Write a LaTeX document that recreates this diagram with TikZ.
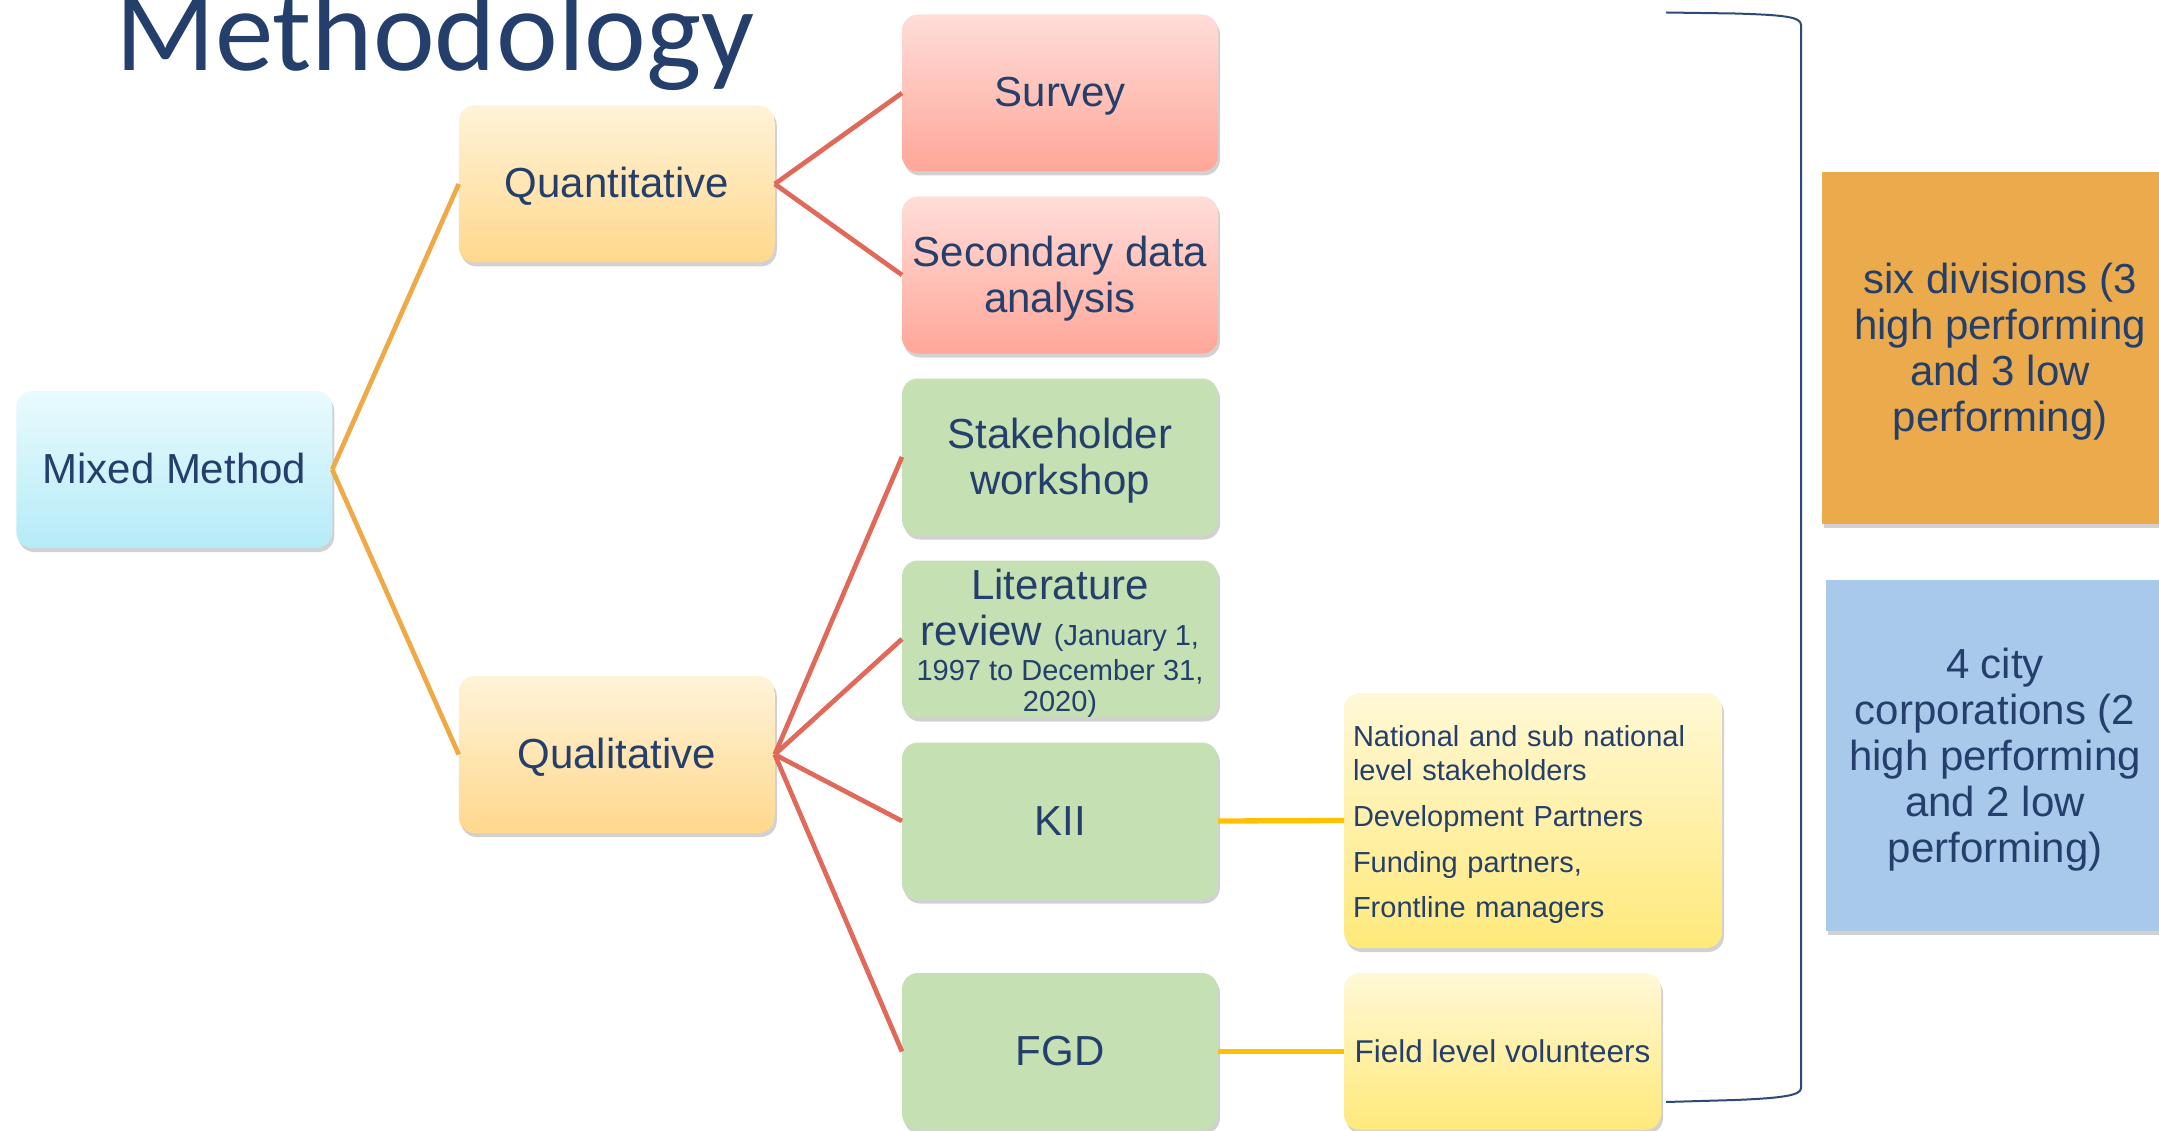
\documentclass[tikz,border=0pt]{standalone}
\usepackage{fontspec}
\setmainfont{Liberation Sans}
\newfontfamily\titlefont{Carlito}
\usetikzlibrary{shadows}
\definecolor{navy}{HTML}{243F6B}
\definecolor{bracketc}{HTML}{2B4A7A}
\definecolor{ocn}{HTML}{EEAA46}
\definecolor{redline}{HTML}{E0695A}
\definecolor{goldline}{HTML}{FFC000}
\definecolor{cyanTop}{HTML}{E9FBFD}
\definecolor{cyanBot}{HTML}{B5EBF8}
\definecolor{peachTop}{HTML}{FFF3D8}
\definecolor{peachBot}{HTML}{FFD88C}
\definecolor{pinkTop}{HTML}{FFDDD9}
\definecolor{pinkBot}{HTML}{FFA698}
\definecolor{greenbox}{HTML}{C5E0B3}
\definecolor{yelTop}{HTML}{FFF8D6}
\definecolor{yelBot}{HTML}{FFE97A}
\definecolor{orangeRect}{HTML}{EBAB4C}
\definecolor{blueRect}{HTML}{A9C9EB}
\newcommand\litsmall{\fontsize{29}{34}\selectfont}
\newcommand\topstrut{\rule{0pt}{38pt}}
\newcommand\topstrutsm{\rule{0pt}{29pt}}
\begin{document}
\begin{tikzpicture}[x=1pt,y=-1pt,
  every node/.style={text=navy, inner sep=0pt, outer sep=0pt},
  softshadow/.style={drop shadow={shadow xshift=2pt, shadow yshift=-4pt, opacity=0.3, fill=black!60}},
  boxbase/.style={softshadow, rounded corners=16pt, minimum width=316pt, minimum height=157pt,
    align=center, font=\fontsize{42}{46}\selectfont},
  oneline/.style={text height=30pt, text depth=2pt},
  mixedbox/.style={boxbase, top color=cyanTop, bottom color=cyanBot},
  peachbox/.style={boxbase, top color=peachTop, bottom color=peachBot},
  pinkbox/.style={boxbase, top color=pinkTop, bottom color=pinkBot},
  greenstyle/.style={boxbase, fill=greenbox},
  yelbox/.style={softshadow, rounded corners=16pt, top color=yelTop, bottom color=yelBot},
  sidebox/.style={softshadow, minimum height=351pt, align=center, font=\fontsize{42}{46}\selectfont},
  mline/.style={draw=ocn, line width=4.7pt},
  rline/.style={draw=redline, line width=4.7pt},
  gline/.style={draw=goldline, line width=5.3pt}
]
\useasboundingbox (0,0) rectangle (2159,1131);

% title
\node[anchor=base west, font=\titlefont\fontsize{117}{120}\selectfont] (title) at (115,71) {Methodology};

% main tree
\node[mixedbox, oneline] (mm) at (174.25,469.5) {Mixed Method};
\node[peachbox, oneline] (quant) at (616.75,184) {Quantitative};
\node[peachbox, oneline] (qual) at (616.75,754.5) {Qualitative};

\node[pinkbox, oneline] (survey) at (1060,93) {Survey};
\node[pinkbox] (second) at (1060,275) {\topstrut Secondary data\\analysis};

\node[greenstyle] (stake) at (1060,457) {\topstrut Stakeholder\\workshop};
\node[greenstyle] (lit) at (1060,639) {\topstrut Literature\\review {\litsmall (January 1,}\\[-11pt]{\litsmall 1997 to December 31,}\\[-15pt]{\litsmall 2020)}};
\node[greenstyle, oneline] (kii) at (1060,821) {KII};
\node[greenstyle, oneline] (fgd) at (1060,1051.5) {FGD};

% yellow detail boxes
\node[yelbox, minimum width=378pt, minimum height=255pt, text width=360pt, align=left,
  font=\fontsize{29}{34}\selectfont] (kiidet) at (1533,820.5)
  {\topstrutsm National and sub national\\level stakeholders\\[12pt]Development Partners\\[12pt]Funding partners,\\[11pt]Frontline managers};
\node[yelbox, minimum width=317pt, minimum height=157pt, font=\fontsize{31.5}{36}\selectfont,
  text height=22.5pt, text depth=0pt] (fgddet) at (1502.5,1051.5) {Field level volunteers};

% side boxes
\node[sidebox, fill=orangeRect, minimum width=356pt] (divs) at (2000,348) {\topstrut six divisions (3\\high performing\\and 3 low\\performing)};
\node[sidebox, fill=blueRect, minimum width=338pt] (city) at (1995,755.5) {\topstrut 4 city\\corporations (2\\high performing\\and 2 low\\performing)};

% connectors
\draw[mline] (mm.east) -- (quant.west);
\draw[mline] (mm.east) -- (qual.west);
\draw[rline] (quant.east) -- (survey.west);
\draw[rline] (quant.east) -- (second.west);
\draw[rline] (qual.east) -- (stake.west);
\draw[rline] (qual.east) -- (lit.west);
\draw[rline] (qual.east) -- (kii.west);
\draw[rline] (qual.east) -- (fgd.west);
\draw[gline] (kii.east) -- (kiidet.west);
\draw[gline] (fgd.east) -- (fgddet.west);

% bracket
\draw[bracketc, line width=2pt]
  (1666,12.5) -- (1735,13.5) .. controls (1785,15) and (1801,17) .. (1801,25)
  -- (1801,1088) .. controls (1801,1095) and (1785,1098) .. (1735,1100) -- (1666,1102);
\end{tikzpicture}
\end{document}
